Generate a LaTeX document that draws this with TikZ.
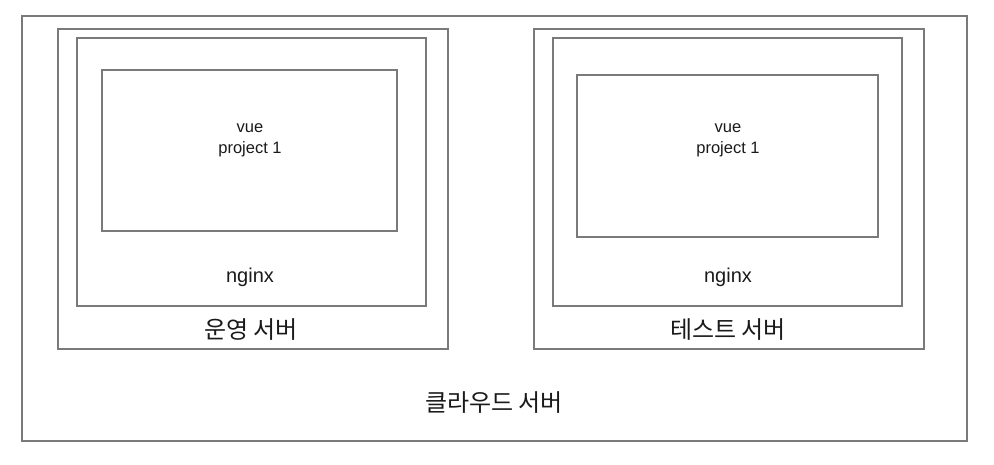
\documentclass[tikz,border=0pt]{standalone}
\usepackage{fontspec}
\setmainfont{Liberation Sans}
\newfontfamily\kofont{Noto Sans CJK KR}
\definecolor{boxgray}{HTML}{7A7A7A}
\definecolor{txtgray}{HTML}{1A1A1A}

\begin{document}
\begin{tikzpicture}[x=1pt, y=-1pt,
    box/.style={draw=boxgray, line width=1.5pt, rectangle, inner sep=0pt, anchor=north west},
    lbl/.style={text=txtgray, inner sep=0pt, align=center}]
      \useasboundingbox (0,0) rectangle (994,464);
      % cloud server
      \node[box, minimum width=945pt, minimum height=425pt] (cloud) at (21,15) {};
      % production server
      \node[box, minimum width=390pt, minimum height=320pt] (prod) at (57,28) {};
      \node[box, minimum width=349pt, minimum height=268pt] (prodnginx) at (76,37) {};
      \node[box, minimum width=295pt, minimum height=161pt] (prodvue) at (101,69) {};
      % test server
      \node[box, minimum width=390pt, minimum height=320pt] (test) at (533,28) {};
      \node[box, minimum width=349pt, minimum height=268pt] (testnginx) at (552,37) {};
      \node[box, minimum width=301pt, minimum height=162pt] (testvue) at (576,74) {};
      % labels
      \node[lbl, font=\fontsize{16.5}{21}\selectfont] (prodvuelbl) at (250,140) {vue\\project 1};
      \node[lbl, font=\fontsize{16.5}{21}\selectfont] (testvuelbl) at (728,140) {vue\\project 1};
      \node[lbl, font=\fontsize{20}{24}\selectfont] (prodnginxlbl) at (250,277) {nginx};
      \node[lbl, font=\fontsize{20}{24}\selectfont] (testnginxlbl) at (728,277) {nginx};
      \node[lbl, font=\kofont\fontsize{24}{28}\selectfont] (prodlbl) at (251,330) {운영 서버};
      \node[lbl, font=\kofont\fontsize{24}{28}\selectfont] (testlbl) at (728,330) {테스트 서버};
      \node[lbl, font=\kofont\fontsize{24}{28}\selectfont] (cloudlbl) at (494,403) {클라우드 서버};
    \end{tikzpicture}
\end{document}
